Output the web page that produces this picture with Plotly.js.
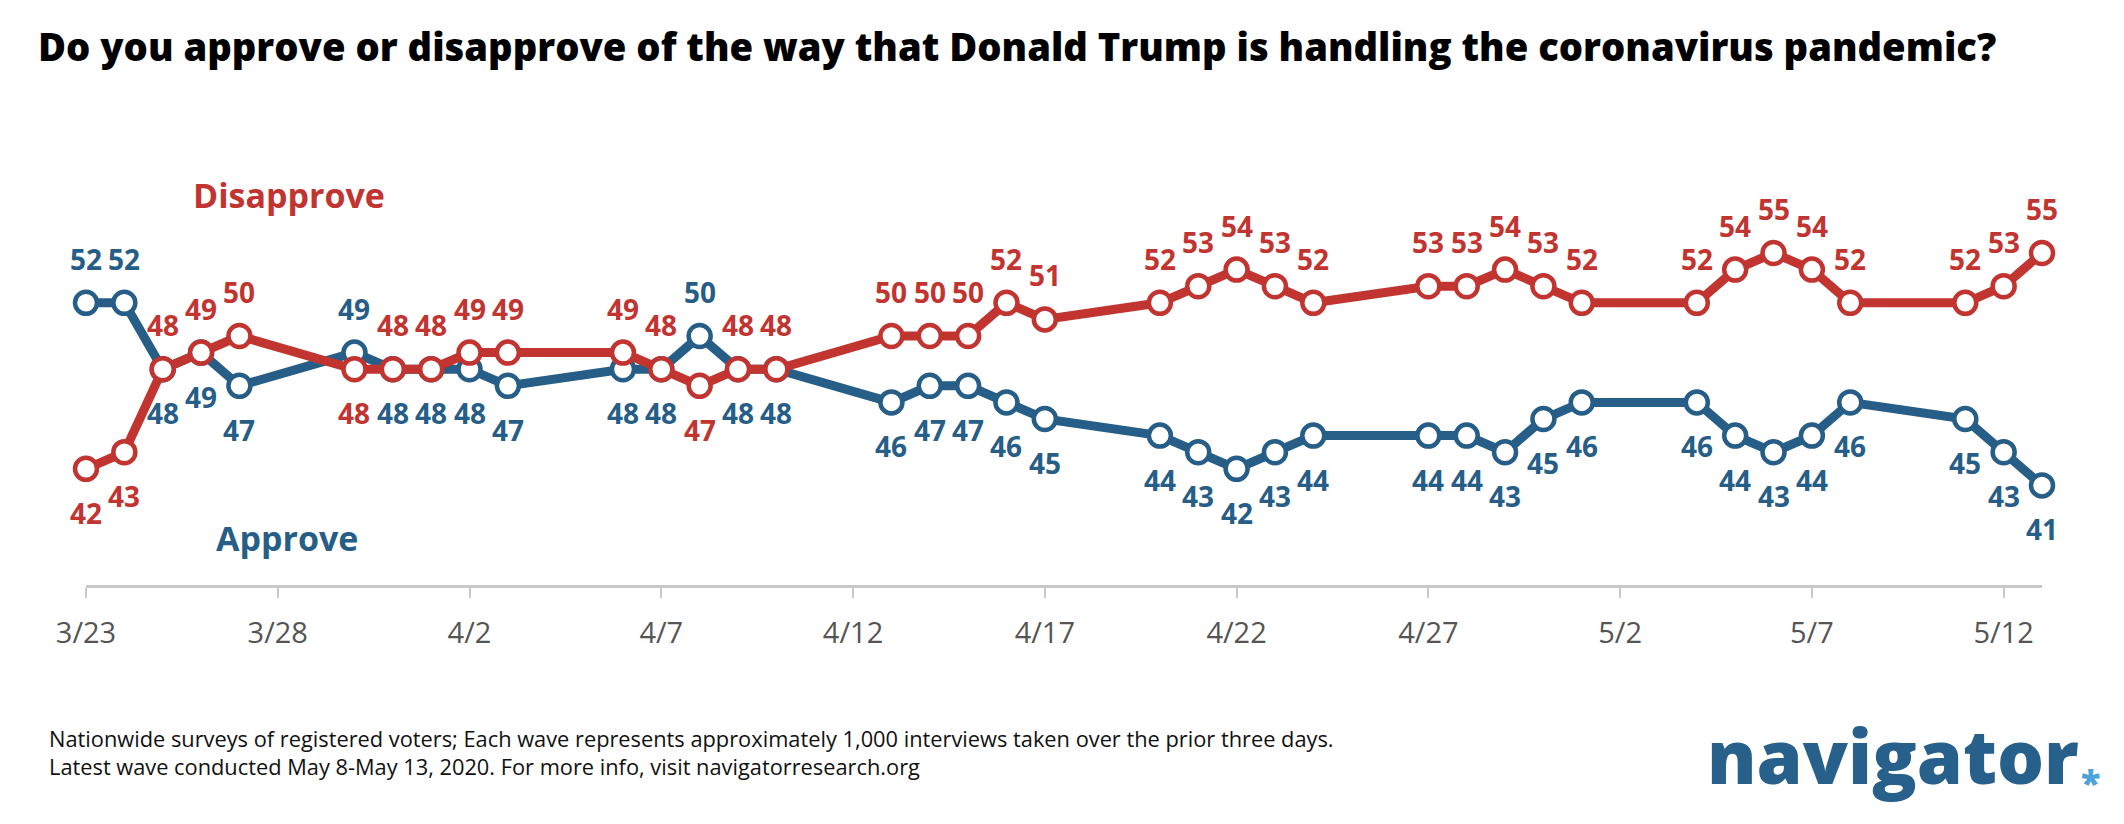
<!DOCTYPE html>
<html>
<head>
<meta charset="utf-8">
<script src="https://cdn.plot.ly/plotly-3.0.1.min.js"></script>
<style>
  html, body { margin: 0; padding: 0; background: #fff; }
  #chart { width: 2124px; height: 824px; }
</style>
</head>
<body>
<div id="chart"></div>
<script>
// ---- data ----
const dates = ['2020-03-23','2020-03-24','2020-03-25','2020-03-26','2020-03-27','2020-03-30','2020-03-31','2020-04-01','2020-04-02','2020-04-03','2020-04-06','2020-04-07','2020-04-08','2020-04-09','2020-04-10','2020-04-13','2020-04-14','2020-04-15','2020-04-16','2020-04-17','2020-04-20','2020-04-21','2020-04-22','2020-04-23','2020-04-24','2020-04-27','2020-04-28','2020-04-29','2020-04-30','2020-05-01','2020-05-04','2020-05-05','2020-05-06','2020-05-07','2020-05-08','2020-05-11','2020-05-12','2020-05-13'];
const approve    = [52,52,48,49,47,49,48,48,48,47,48,48,50,48,48,46,47,47,46,45,44,43,42,43,44,44,44,43,45,46,46,44,43,44,46,45,43,41];
const disapprove = [42,43,48,49,50,48,48,48,49,49,49,48,47,48,48,50,50,50,52,51,52,53,54,53,52,53,53,54,53,52,52,54,55,54,52,52,53,55];
// label side: 1 = above, -1 = below
const approveSide    = [1,1,-1,-1,-1,1,-1,-1,-1,-1,-1,-1,1,-1,-1,-1,-1,-1,-1,-1,-1,-1,-1,-1,-1,-1,-1,-1,-1,-1,-1,-1,-1,-1,-1,-1,-1,-1];
const disapproveSide = [-1,-1,1,1,1,-1,1,1,1,1,1,1,-1,1,1,1,1,1,1,1,1,1,1,1,1,1,1,1,1,1,1,1,1,1,1,1,1,1];
const tickVals = ['2020-03-23','2020-03-28','2020-04-02','2020-04-07','2020-04-12','2020-04-17','2020-04-22','2020-04-27','2020-05-02','2020-05-07','2020-05-12'];
const tickText = ['3/23','3/28','4/2','4/7','4/12','4/17','4/22','4/27','5/2','5/7','5/12'];
const titleText = 'Do you approve or disapprove of the way that Donald Trump is handling the coronavirus pandemic?';
const footer1 = 'Nationwide surveys of registered voters; Each wave represents approximately 1,000 interviews taken over the prior three days.';
const footer2 = 'Latest wave conducted May 8-May 13, 2020. For more info, visit navigatorresearch.org';

// ---- style ----
const RED = '#C23430';
const BLUE = '#265E87';
const W = 2124, H = 824;
const M = {l: 86, r: 82, t: 170, b: 239};
const PW = W - M.l - M.r, PH = H - M.t - M.b;
const px = X => (X - M.l) / PW;
const py = Y => (H - M.b - Y) / PH;
const BOLD = '"Open Sans", "DejaVu Sans", sans-serif';

function seriesTrace(vals, color, name) {
  return {
    type: 'scatter', mode: 'lines+markers', name: name,
    x: dates, y: vals, cliponaxis: false, hoverinfo: 'skip',
    line: {color: color, width: 9},
    marker: {symbol: 'circle', size: 22, color: '#ffffff', line: {color: color, width: 4.5}}
  };
}

const annotations = [];
function addLabels(vals, sides, color) {
  vals.forEach((v, i) => {
    annotations.push({
      x: dates[i], y: v, xref: 'x', yref: 'y', text: String(v), showarrow: false,
      xanchor: 'center', yanchor: 'middle', yshift: sides[i] * 44,
      font: {family: BOLD, size: 28, color: color, weight: 700}
    });
  });
}
addLabels(approve, approveSide, BLUE);
addLabels(disapprove, disapproveSide, RED);

annotations.push({
  xref: 'paper', yref: 'paper', x: px(191), y: py(195), xanchor: 'left', yanchor: 'middle',
  text: 'Disapprove', showarrow: false, font: {family: BOLD, size: 34, color: RED, weight: 700}
});
annotations.push({
  xref: 'paper', yref: 'paper', x: px(214), y: py(538), xanchor: 'left', yanchor: 'middle',
  text: 'Approve', showarrow: false, font: {family: BOLD, size: 34, color: BLUE, weight: 700}
});
annotations.push({
  xref: 'paper', yref: 'paper', x: px(48), y: py(752), xanchor: 'left', yanchor: 'middle', align: 'left',
  text: footer1 + '<br>' + footer2, showarrow: false, borderpad: 0,
  font: {family: BOLD, size: 21.8, color: '#111111'}
});
annotations.push({
  xref: 'paper', yref: 'paper', x: px(1706), y: py(755), xanchor: 'left', yanchor: 'middle',
  text: 'navigator', showarrow: false, borderpad: 0, font: {family: BOLD, size: 74, color: '#28608C', weight: 800}
});
annotations.push({
  xref: 'paper', yref: 'paper', x: px(2090), y: py(782), xanchor: 'center', yanchor: 'middle',
  text: '*', showarrow: false, borderpad: 0, font: {family: BOLD, size: 36, color: '#4BA3D9', weight: 800}
});

const layout = {
  width: W, height: H,
  margin: M,
  paper_bgcolor: '#ffffff', plot_bgcolor: '#ffffff',
  showlegend: false,
  title: {
    text: titleText, xref: 'container', yref: 'container',
    x: 38 / W, xanchor: 'left', y: 1 - 48 / H, yanchor: 'middle',
    font: {family: BOLD, size: 38.2, color: '#000000', weight: 800}
  },
  xaxis: {
    type: 'date', range: ['2020-03-23', '2020-05-13'],
    tickvals: tickVals, ticktext: tickText,
    showgrid: false, zeroline: false,
    showline: true, linecolor: '#c8c8c8', linewidth: 3,
    ticks: 'outside', ticklen: 10, tickwidth: 2, tickcolor: '#c8c8c8',
    ticklabelstandoff: 10,
    tickfont: {family: '"Open Sans", sans-serif', size: 29, color: '#555555'}
  },
  yaxis: {range: [35, 60], visible: false, showgrid: false, zeroline: false},
  annotations: annotations
};

Plotly.newPlot('chart', [seriesTrace(approve, BLUE, 'Approve'), seriesTrace(disapprove, RED, 'Disapprove')], layout, {displayModeBar: false, staticPlot: true});
</script>
</body>
</html>
